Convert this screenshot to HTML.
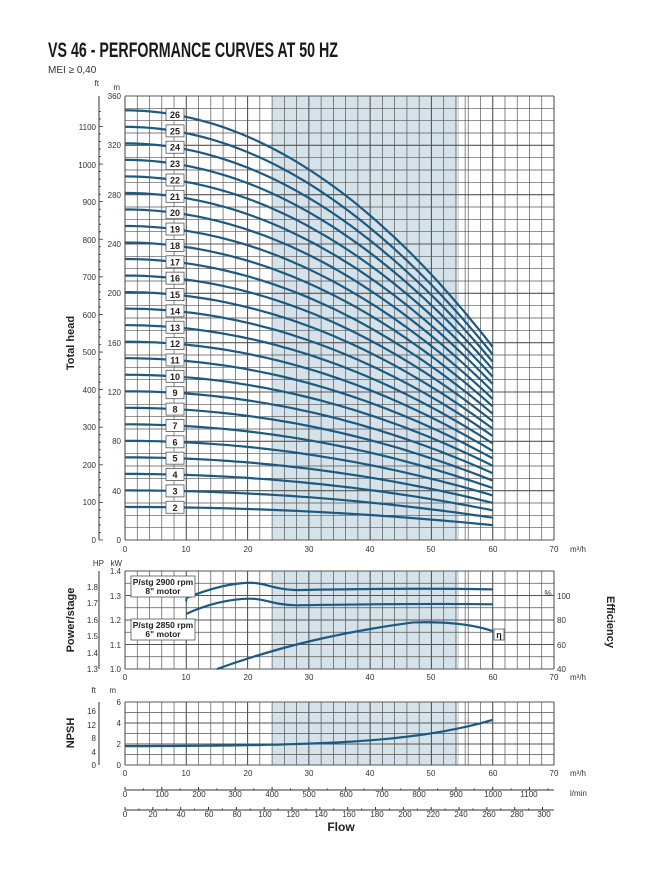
<!DOCTYPE html>
<html><head><meta charset="utf-8"><style>
body{margin:0;background:#fff;}
svg{display:block;font-family:"Liberation Sans",sans-serif;}
.t{font-size:8px;fill:#333;}
.b{font-weight:bold;fill:#222;}
</style></head><body>
<svg id="s" width="663" height="878" viewBox="0 0 663 878" xmlns="http://www.w3.org/2000/svg">
<text x="48" y="57" font-size="21" font-weight="bold" fill="#1a1a1a" textLength="290" lengthAdjust="spacingAndGlyphs">VS 46 - PERFORMANCE CURVES AT 50 HZ</text>
<text x="48" y="73" font-size="10" fill="#333">MEI ≥ 0,40</text>
<g id="grid"></g>
<g id="curves"></g>
<g id="labels"></g>
<g class="t" text-anchor="end">
<text x="99" y="86">ft</text><text x="120" y="90">m</text>
<text x="121" y="99">360</text><text x="121" y="148">320</text><text x="121" y="198">280</text><text x="121" y="247">240</text><text x="121" y="296">200</text><text x="121" y="346">160</text><text x="121" y="395">120</text><text x="121" y="444">80</text><text x="121" y="494">40</text><text x="121" y="543">0</text>
<text x="96" y="130">1100</text><text x="96" y="168">1000</text><text x="96" y="205">900</text><text x="96" y="243">800</text><text x="96" y="280">700</text><text x="96" y="318">600</text><text x="96" y="355">500</text><text x="96" y="393">400</text><text x="96" y="430">300</text><text x="96" y="468">200</text><text x="96" y="505">100</text><text x="96" y="543">0</text>
</g>
<g class="t" text-anchor="middle">
<text x="125" y="552">0</text><text x="186" y="552">10</text><text x="248" y="552">20</text><text x="309" y="552">30</text><text x="370" y="552">40</text><text x="431" y="552">50</text><text x="493" y="552">60</text><text x="554" y="552">70</text>
<text x="125" y="680">0</text><text x="186" y="680">10</text><text x="248" y="680">20</text><text x="309" y="680">30</text><text x="370" y="680">40</text><text x="431" y="680">50</text><text x="493" y="680">60</text><text x="554" y="680">70</text>
<text x="125" y="776">0</text><text x="186" y="776">10</text><text x="248" y="776">20</text><text x="309" y="776">30</text><text x="370" y="776">40</text><text x="431" y="776">50</text><text x="493" y="776">60</text><text x="554" y="776">70</text>
</g>
<g class="t"><text x="570" y="552">m³/h</text><text x="570" y="680">m³/h</text><text x="570" y="776">m³/h</text><text x="570" y="796">l/min</text><text x="548" y="596" text-anchor="middle">%</text></g>
<text class="b" transform="translate(74,343) rotate(-90)" font-size="11" text-anchor="middle">Total head</text>
<g class="t" text-anchor="end">
<text x="104" y="566">HP</text><text x="122" y="566">kW</text>
<text x="121" y="574">1.4</text><text x="121" y="599">1.3</text><text x="121" y="623">1.2</text><text x="121" y="648">1.1</text><text x="121" y="672">1.0</text>
<text x="98" y="590">1.8</text><text x="98" y="606">1.7</text><text x="98" y="623">1.6</text><text x="98" y="639">1.5</text><text x="98" y="656">1.4</text><text x="98" y="672">1.3</text>
</g>
<g class="t"><text x="557" y="599">100</text><text x="557" y="623">80</text><text x="557" y="648">60</text><text x="557" y="672">40</text></g>
<text class="b" transform="translate(74,620) rotate(-90)" font-size="11" text-anchor="middle">Power/stage</text>
<text class="b" transform="translate(607,622) rotate(90)" font-size="11" text-anchor="middle">Efficiency</text>
<g class="t" text-anchor="end">
<text x="96" y="693">ft</text><text x="116" y="693">m</text>
<text x="121" y="705">6</text><text x="121" y="726">4</text><text x="121" y="747">2</text><text x="121" y="768">0</text>
<text x="96" y="714">16</text><text x="96" y="728">12</text><text x="96" y="741">8</text><text x="96" y="755">4</text><text x="96" y="768">0</text>
</g>
<text class="b" transform="translate(74,733) rotate(-90)" font-size="11" text-anchor="middle">NPSH</text>
<g class="t" text-anchor="middle">
<text x="125" y="797">0</text><text x="162" y="797">100</text><text x="199" y="797">200</text><text x="235" y="797">300</text><text x="272" y="797">400</text><text x="309" y="797">500</text><text x="346" y="797">600</text><text x="382" y="797">700</text><text x="419" y="797">800</text><text x="456" y="797">900</text><text x="493" y="797">1000</text><text x="529" y="797">1100</text>
<text x="125" y="817">0</text><text x="153" y="817">20</text><text x="181" y="817">40</text><text x="209" y="817">60</text><text x="237" y="817">80</text><text x="265" y="817">100</text><text x="293" y="817">120</text><text x="321" y="817">140</text><text x="349" y="817">160</text><text x="377" y="817">180</text><text x="405" y="817">200</text><text x="433" y="817">220</text><text x="461" y="817">240</text><text x="489" y="817">260</text><text x="517" y="817">280</text><text x="544" y="817">300</text>
</g>
<text class="b" x="341" y="831" font-size="12" text-anchor="middle">Flow</text>
</svg>
<script>
const NS="http://www.w3.org/2000/svg";
const g=document.getElementById('grid'),cv=document.getElementById('curves'),lb=document.getElementById('labels');
function el(p,n,a){const e=document.createElementNS(NS,n);for(const k in a)e.setAttribute(k,a[k]);p.appendChild(e);return e;}
const X=q=>125+q*429/70;
function panel(y0,y1,rows,major){
  el(g,'rect',{x:X(24),y:y0,width:X(54.5)-X(24),height:y1-y0,fill:'#d6e2ea'});
  for(let i=0;i<=35;i++){const x=X(i*2);el(g,'line',{x1:x,y1:y0,x2:x,y2:y1,stroke:'#555','stroke-width':(i%5==0)?1.1:0.7});}
  el(g,'line',{x1:X(55.5),y1:y0,x2:X(55.5),y2:y1,stroke:'#555','stroke-width':0.7});
  for(let j=0;j<=rows;j++){const y=y0+(y1-y0)*j/rows;el(g,'line',{x1:X(0),y1:y,x2:X(70),y2:y,stroke:'#555','stroke-width':(j%major==0)?1.1:0.7});}
}
panel(96,540,36,4);panel(571,669,8,2);panel(702,765,6,2);
[[99,96,540],[99,571,669],[99,702,765]].forEach(a=>el(g,'line',{x1:a[0],y1:a[1],x2:a[0],y2:a[2],stroke:'#333','stroke-width':1}));
for(let f=0;f<=1150;f+=20){const y=540-f*0.3048*1.2333;el(g,'line',{x1:99,y1:y,x2:f%100==0?103:101,y2:y,stroke:'#333','stroke-width':0.8});}
[790,810].forEach(y=>el(g,'line',{x1:125,y1:y,x2:554,y2:y,stroke:'#333','stroke-width':1}));
for(let l=0;l<=1160;l+=50){const x=125+l*0.06*429/70;el(g,'line',{x1:x,y1:790,x2:x,y2:l%100==0?787:788.5,stroke:'#333'});}
for(let u=0;u<=305;u+=10){const x=125+u*0.2271*429/70;el(g,'line',{x1:x,y1:810,x2:x,y2:u%20==0?807:808.5,stroke:'#333'});}
const Y=h=>540-h*444/360;
function hs(q){return 13.4-0.00205*q*q;}
const stages=[2,3,4,5,6,7,8,9,10,11,12,13,14,15,16,17,18,19,20,21,22,23,24,25,26];
stages.forEach(n=>{let d='';for(let q=0;q<=60;q+=1){d+=(q?'L':'M')+X(q).toFixed(1)+','+Y(n*hs(q)).toFixed(1);}
 el(cv,'path',{d:d,fill:'none',stroke:'#1b5a82','stroke-width':2.2});
 const y=Y(n*hs(8));el(lb,'rect',{x:166,y:y-6,width:18,height:12,fill:'#fff',stroke:'#555','stroke-width':0.8});
 const t=el(lb,'text',{x:175,y:y+3.5,'font-size':9,'font-weight':'bold','text-anchor':'middle',fill:'#222'});t.textContent=n;});
const PY=p=>669-(p-1.0)*245;
el(cv,'path',{d:'M'+X(10)+','+PY(1.29)+' C'+X(13)+','+PY(1.32)+' '+X(17)+','+PY(1.352)+' '+X(20.5)+','+PY(1.352)+' C'+X(23)+','+PY(1.352)+' '+X(24)+','+PY(1.325)+' '+X(28)+','+PY(1.322)+' C'+X(40)+','+PY(1.328)+' '+X(50)+','+PY(1.33)+' '+X(60)+','+PY(1.325),fill:'none',stroke:'#1b5a82','stroke-width':2.2});
el(cv,'path',{d:'M'+X(10)+','+PY(1.225)+' C'+X(13)+','+PY(1.26)+' '+X(17)+','+PY(1.288)+' '+X(20.5)+','+PY(1.287)+' C'+X(23)+','+PY(1.287)+' '+X(24)+','+PY(1.262)+' '+X(28)+','+PY(1.26)+' C'+X(40)+','+PY(1.265)+' '+X(50)+','+PY(1.268)+' '+X(60)+','+PY(1.264),fill:'none',stroke:'#1b5a82','stroke-width':2.2});
el(cv,'line',{x1:X(10),y1:PY(1.29),x2:X(10),y2:PY(1.275),stroke:'#1b5a82','stroke-width':2});
const EY=e=>669-(e-40)*98/80;
el(cv,'path',{d:'M'+X(15)+','+EY(40)+' C'+X(25)+','+EY(58)+' '+X(35)+','+EY(70)+' '+X(47)+','+EY(78)+' C'+X(53)+','+EY(79)+' '+X(57)+','+EY(76)+' '+X(60)+','+EY(71),fill:'none',stroke:'#1b5a82','stroke-width':2.2});
el(lb,'rect',{x:494,y:EY(71)-2,width:10,height:11,fill:'#fff',stroke:'#555','stroke-width':0.8});
let t=el(lb,'text',{x:499,y:EY(71)+7,'font-size':9,'text-anchor':'middle',fill:'#222','font-weight':'bold'});t.textContent='η';
[[131,576,'P/stg 2900 rpm','8" motor'],[131,619,'P/stg 2850 rpm','6" motor']].forEach(a=>{
 el(lb,'rect',{x:a[0],y:a[1],width:64,height:21,fill:'#fff',stroke:'#555','stroke-width':0.8});
 let t1=el(lb,'text',{x:a[0]+32,y:a[1]+9,'font-size':8.5,'font-weight':'bold','text-anchor':'middle',fill:'#222'});t1.textContent=a[2];
 let t2=el(lb,'text',{x:a[0]+32,y:a[1]+18,'font-size':8.5,'font-weight':'bold','text-anchor':'middle',fill:'#222'});t2.textContent=a[3];});
const NY=m=>765-m*63/6;
let d='';for(let q=0;q<=60;q++){const m=1.8+0.0002*q*q+0.00000000229*Math.pow(q,5);d+=(q?'L':'M')+X(q).toFixed(1)+','+NY(m).toFixed(1);}
el(cv,'path',{d:d,fill:'none',stroke:'#1b5a82','stroke-width':2.2});
</script>
</body></html>
